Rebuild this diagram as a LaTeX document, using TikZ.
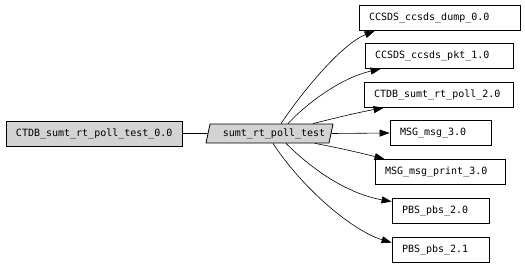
\documentclass[tikz,border=0pt]{standalone}
\usepackage{fontspec}
\setmainfont{DejaVu Sans Mono}
\usetikzlibrary{shapes.geometric,arrows.meta}
\definecolor{lgray}{HTML}{D3D3D3}
\begin{document}
\begin{tikzpicture}[x=1pt,y=-1pt,
  font=\fontsize{10pt}{12pt}\selectfont,
  box/.style={draw,line width=0.8pt,fill=white,minimum height=25pt,inner xsep=10pt,inner ysep=0pt,align=left},
  arr/.style={draw,line width=0.6pt,-{Triangle[length=10pt,width=7pt]}}]
\fill[white] (0,0) rectangle (525,266);
\useasboundingbox (0,0) rectangle (525,266);
\node[box,fill=lgray,text width=156pt] (src) at (94,133.5) {CTDB\_sumt\_rt\_poll\_test\_0.0};
\node[trapezium,trapezium left angle=68,trapezium right angle=112,trapezium stretches body,
  draw,line width=0.8pt,fill=lgray,minimum width=127pt,minimum height=19pt,inner sep=0pt] (p) at (269.5,133.5) {\hspace*{9pt}sumt\_rt\_poll\_test};
\node[box,text width=141pt] (n1) at (439.5,18) {CCSDS\_ccsds\_dump\_0.0};
\node[box,text width=128pt] (n2) at (439,56) {CCSDS\_ccsds\_pkt\_1.0};
\node[box,text width=129pt] (n3) at (438.5,95) {CTDB\_sumt\_rt\_poll\_2.0};
\node[box,text width=81pt] (n4) at (440.5,133) {MSG\_msg\_3.0};
\node[box,text width=110pt] (n5) at (440,172) {MSG\_msg\_print\_3.0};
\node[box,text width=77pt] (n6) at (440.5,210.5) {PBS\_pbs\_2.0};
\node[box,text width=77pt] (n7) at (440.5,249.5) {PBS\_pbs\_2.1};
\draw[line width=0.6pt] (src.east) -- (p.west);
\draw[arr] ([xshift=11.5pt]p.north) .. controls (300,95) and (340,45) .. ([xshift=16pt]n1.south west);
\draw[arr] ([xshift=18.5pt]p.north) .. controls (305,105) and (340,78) .. ([xshift=16pt]n2.south west);
\draw[arr] ([xshift=43.5pt]p.north) .. controls (335,118) and (360,112) .. ([xshift=20pt]n3.south west);
\draw[arr] (p.east) -- (n4.west);
\draw[arr] ([xshift=45.5pt]p.south) .. controls (340,148) and (365,154) .. ([xshift=10pt]n5.north west);
\draw[arr] ([xshift=16.5pt]p.south) .. controls (321,178) and (355,195) .. ([yshift=-4pt]n6.north west);
\draw[arr] ([xshift=3.5pt]p.south) .. controls (300,185) and (350,230) .. ([yshift=-6pt]n7.north west);
\end{tikzpicture}
\end{document}
